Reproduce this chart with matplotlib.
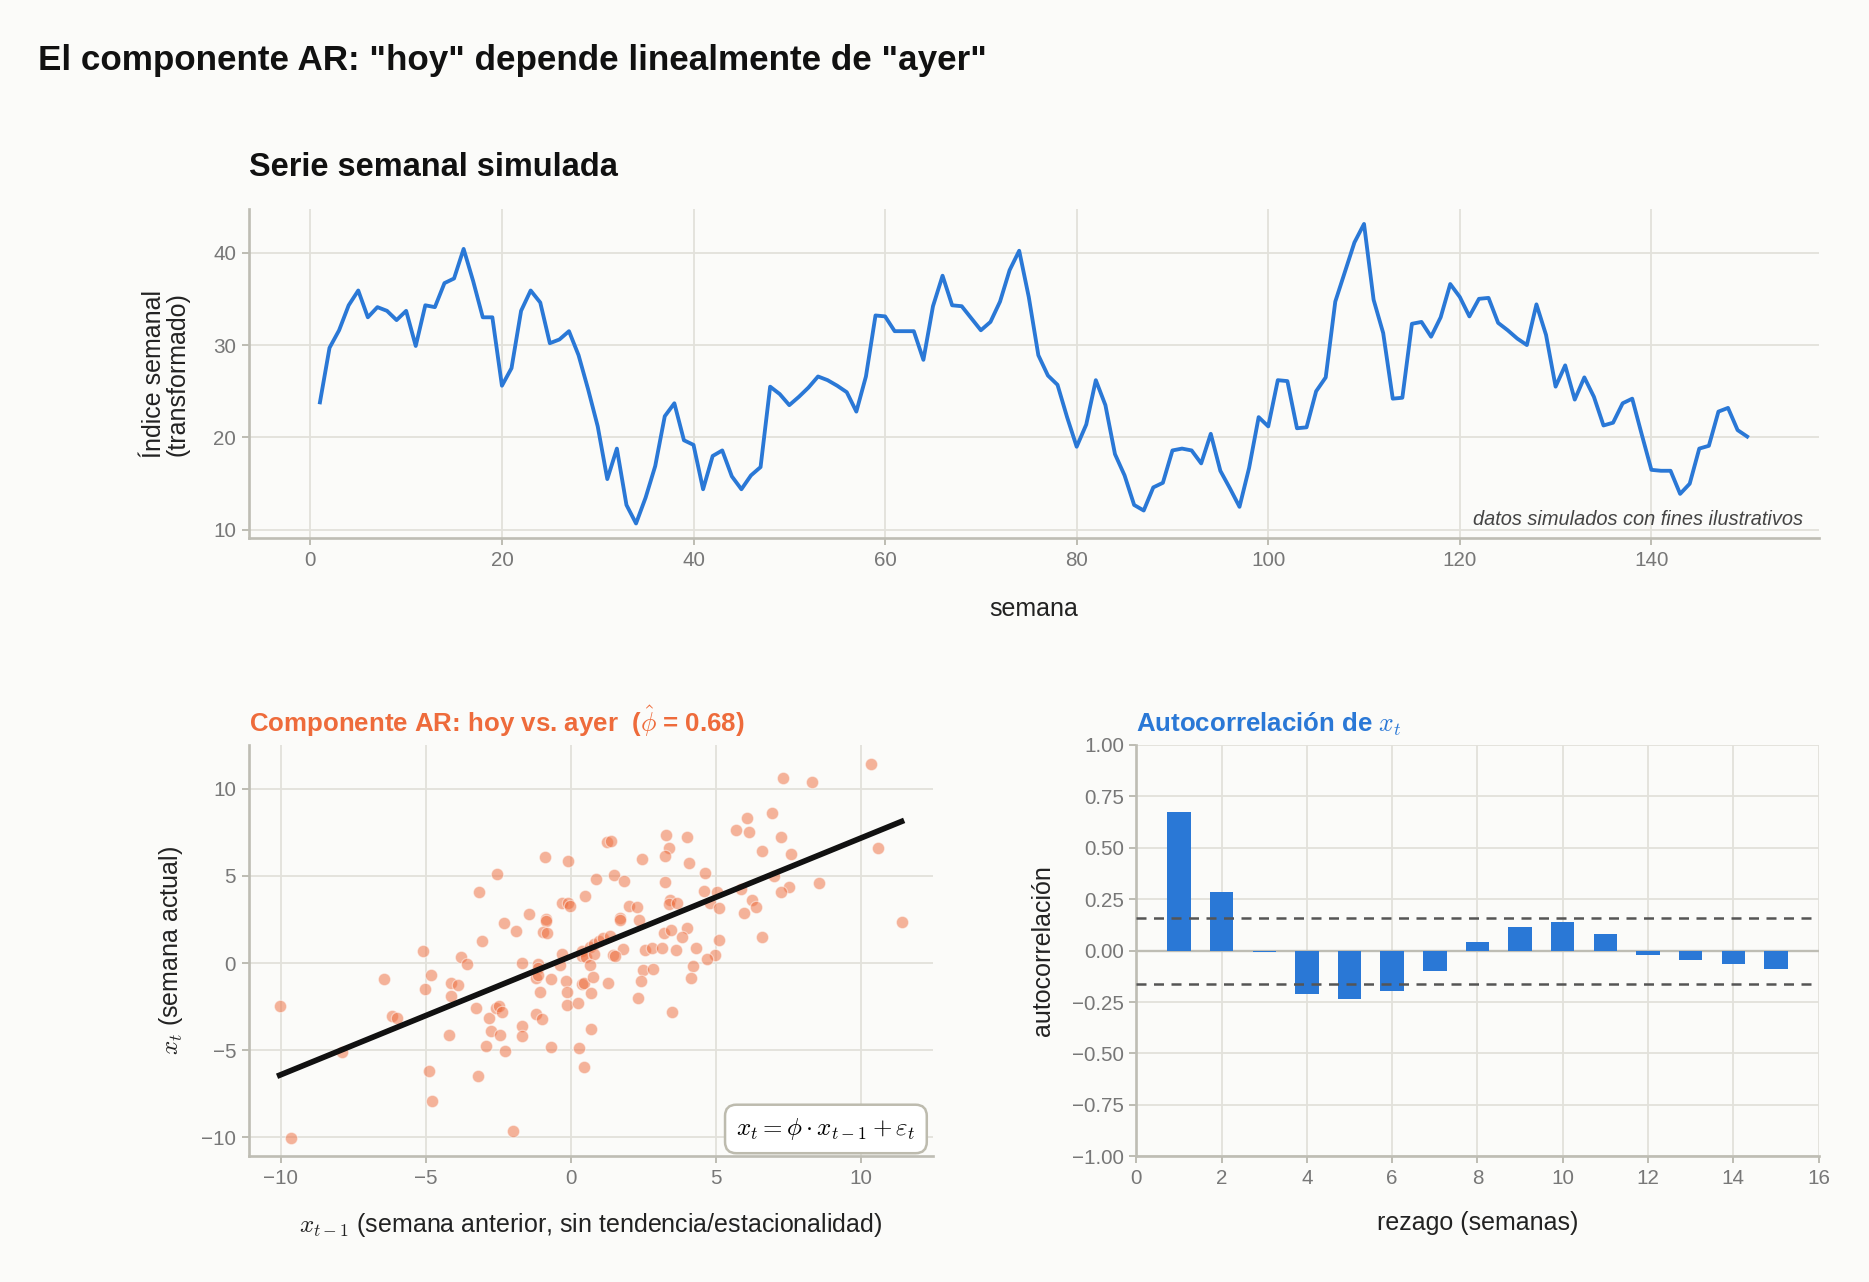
import numpy as np
import matplotlib
matplotlib.use("Agg")
import matplotlib.pyplot as plt
from matplotlib.ticker import FuncFormatter

# ---- data ----
weeks = np.arange(1, 151)
weekly_index = [
    23.8, 29.7, 31.6, 34.3, 35.9, 33.0, 34.1, 33.7, 32.7, 33.7,
    29.9, 34.3, 34.1, 36.7, 37.2, 40.4, 36.9, 33.0, 33.0, 25.6,
    27.5, 33.7, 35.9, 34.6, 30.2, 30.6, 31.5, 28.9, 25.2, 21.2,
    15.5, 18.8, 12.7, 10.7, 13.5, 16.9, 22.3, 23.7, 19.7, 19.2,
    14.4, 18.0, 18.6, 15.8, 14.4, 15.9, 16.8, 25.5, 24.7, 23.5,
    24.4, 25.4, 26.6, 26.2, 25.6, 24.9, 22.8, 26.6, 33.2, 33.1,
    31.5, 31.5, 31.5, 28.4, 34.2, 37.5, 34.3, 34.2, 32.9, 31.6,
    32.5, 34.7, 38.1, 40.2, 35.2, 28.9, 26.7, 25.7, 22.2, 19.0,
    21.4, 26.2, 23.5, 18.2, 15.9, 12.7, 12.1, 14.6, 15.1, 18.6,
    18.8, 18.6, 17.2, 20.4, 16.4, 14.5, 12.5, 16.7, 22.2, 21.2,
    26.2, 26.1, 21.0, 21.1, 25.0, 26.5, 34.7, 37.9, 41.1, 43.1,
    34.9, 31.3, 24.2, 24.3, 32.3, 32.5, 30.9, 33.0, 36.6, 35.2,
    33.1, 35.0, 35.1, 32.4, 31.6, 30.7, 30.0, 34.4, 31.1, 25.5,
    27.8, 24.1, 26.5, 24.4, 21.3, 21.6, 23.7, 24.2, 20.3, 16.5,
    16.4, 16.4, 13.9, 15.0, 18.8, 19.1, 22.8, 23.2, 20.8, 20.1,
]

# detrended pairs (x_{t-1}, x_t)
x_prev = [
    -0.89, -0.10, 1.26, 1.41, -2.55, -3.17, 0.88, 0.50, -0.31, -0.08,
    -0.01, -1.44, -0.86, -0.86, -2.29, -1.87, -0.94, -0.83, -3.04, -5.08,
    -3.77, -3.58, -1.68, -1.13, -0.31, 0.41, 0.68, 0.82, 0.99, 1.11,
    0.41, 0.53, 0.82, 0.67, 1.35, 10.37, 7.34, 8.32, 6.94, 6.07,
    5.70, 6.15, 7.24, 6.59, 7.60, 10.60, 3.29, 4.03, 3.40, 3.27,
    2.47, 4.07, 4.62, 1.49, 1.85, 3.26, 7.02, 8.56, 7.52, 7.24,
    4.60, 5.06, 5.86, 6.27, 6.39, 5.98, 3.44, 3.40, 3.67, 4.79,
    5.13, 2.00, 2.28, 1.71, 1.71, 2.35, 4.00, 3.23, 3.46, 3.84,
    5.13, 6.59, 11.41, 1.81, 1.45, 1.52, 2.58, 2.82, 3.15, 3.62,
    4.34, 4.98, 4.69, -10.03, -9.64, -6.45, -6.16, -5.98, -7.87, -5.02,
    -4.80, -4.88, -4.77, -4.14, -3.89, -4.14, -4.18, -3.25, -2.83, -2.76,
    -2.93, -3.18, -2.58, -2.47, -2.38, -2.42, -2.26, -2.00, -1.11, -1.20,
    -1.14, -0.67, -1.05, -1.69, -1.69, -1.20, -1.00, -0.67, -0.35, -0.15,
    -0.13, -0.13, 0.25, 0.30, 0.47, 0.41, 0.47, 0.78, 0.70, 0.71,
    1.30, 2.50, 2.85, 2.42, 2.32, 3.49, 4.22, 4.14,
]
x_curr = [
    6.09, 5.86, 6.97, 7.00, 5.13, 4.05, 4.81, 3.85, 3.47, 3.42,
    3.28, 2.82, 2.52, 2.39, 2.29, 1.83, 1.76, 1.72, 1.26, 0.67,
    0.32, -0.07, 0.02, -0.08, 0.51, 0.71, 0.90, 1.09, 1.28, 1.41,
    0.42, 0.36, 0.52, -0.10, 1.57, 11.45, 10.61, 10.40, 8.59, 8.34,
    7.63, 7.54, 7.25, 6.41, 6.28, 6.62, 7.35, 7.25, 6.60, 6.16,
    5.99, 5.74, 5.15, 5.08, 4.71, 4.64, 5.00, 4.62, 4.35, 4.10,
    4.14, 4.05, 4.24, 3.63, 3.24, 2.86, 3.63, 3.40, 3.47, 3.47,
    3.15, 3.28, 3.24, 2.58, 2.48, 2.46, 2.00, 1.74, 1.87, 1.49,
    1.35, 1.51, 2.33, 0.80, 0.45, 0.40, 0.76, 0.86, 0.84, 0.74,
    0.86, 0.45, 0.24, -2.47, -10.02, -0.89, -3.04, -3.17, -5.11, -1.46,
    -0.68, -6.18, -7.89, -1.14, -1.24, -1.88, -4.13, -2.57, -3.17, -3.90,
    -4.75, -6.46, -2.57, -2.47, -2.81, -4.14, -5.04, -9.64, -0.29, -0.86,
    -0.70, -0.93, -1.67, -3.61, -4.18, -2.95, -3.23, -4.81, -0.13, -1.05,
    -1.67, -2.41, -2.28, -4.90, -5.99, -1.20, -1.14, -0.82, -1.69, -3.76,
    -1.14, -0.38, -0.34, -1.01, -2.03, -2.79, -0.15, -0.87,
]
phi_hat = 0.68

lags = np.arange(1, 16)
acf_values = [0.674, 0.287, -0.008, -0.210, -0.234, -0.194, -0.097, 0.044,
              0.113, 0.140, 0.082, -0.023, -0.047, -0.066, -0.089]
n_obs = 150

# ---- style ----
BG = "#FBFBF9"
GRID = "#E2E1DB"
SPINE = "#BEBDB4"
TICK = "#777777"
BLUE = "#2A78D6"
ORANGE = "#EE6B3B"

plt.rcParams["font.family"] = ["Liberation Sans", "DejaVu Sans"]
plt.rcParams["mathtext.fontset"] = "cm"


def style_axes(ax):
    ax.set_facecolor(BG)
    ax.grid(True, color=GRID, linewidth=1.1)
    ax.set_axisbelow(True)
    for side in ["top", "right"]:
        ax.spines[side].set_visible(False)
    for side in ["left", "bottom"]:
        ax.spines[side].set_color(SPINE)
        ax.spines[side].set_linewidth(1.6)
    ax.tick_params(colors=SPINE, labelcolor=TICK, labelsize=12.4, length=4, width=1.2)


fig = plt.figure(figsize=(1869 / 120, 1282 / 120), dpi=120, facecolor=BG)

fig.text(0.0205, 0.953, 'El componente AR: "hoy" depende linealmente de "ayer"',
         fontsize=21, fontweight="bold", va="center", ha="left", color="#111111")

# top: weekly series
ax1 = fig.add_axes([0.133, 0.580, 0.840, 0.257])
style_axes(ax1)
ax1.plot(weeks, weekly_index, color=BLUE, linewidth=2.3)
ax1.set_title("Serie semanal simulada", loc="left", fontsize=19.5,
              fontweight="bold", pad=20, color="#111111")
ax1.set_xlabel("semana", fontsize=15, labelpad=16, color="#222222")
ax1.set_ylabel("Índice semanal\n(transformado)", fontsize=15, labelpad=14,
               color="#222222", linespacing=1.0)
ax1.text(0.99, 0.03, "datos simulados con fines ilustrativos", transform=ax1.transAxes,
         ha="right", va="bottom", fontsize=12, style="italic", color="#444444")

# bottom left: lag scatter
ax2 = fig.add_axes([0.133, 0.098, 0.366, 0.321])
style_axes(ax2)
ax2.scatter(x_prev, x_curr, s=55, color=ORANGE, alpha=0.5,
            edgecolors="white", linewidths=0.7, zorder=2)
slope, intercept = np.polyfit(x_prev, x_curr, 1)
xs = np.array([min(x_prev), max(x_prev)])
ax2.plot(xs, intercept + slope * xs, color="#111111", linewidth=3.4, zorder=3)
ax2.set_title(r"Componente AR: hoy vs. ayer  ($\hat{\phi}$ = " + f"{phi_hat:.2f})",
              loc="left", fontsize=15.5, fontweight="bold", color=ORANGE, pad=8)
ax2.set_xlabel(r"$x_{t-1}$ (semana anterior, sin tendencia/estacionalidad)",
               fontsize=15, labelpad=14, color="#222222")
ax2.set_ylabel(r"$x_t$ (semana actual)", fontsize=15, labelpad=10, color="#222222")
ax2.text(0.975, 0.035, r"$x_t = \phi \cdot x_{t-1} + \varepsilon_t$",
         transform=ax2.transAxes, ha="right", va="bottom", fontsize=15,
         bbox=dict(boxstyle="round,pad=0.45", facecolor="white", edgecolor="#BDBBAE",
                   linewidth=1.5))

# bottom right: ACF
ax3 = fig.add_axes([0.608, 0.098, 0.365, 0.321])
style_axes(ax3)
ax3.axhline(0, color=SPINE, linewidth=1.4, zorder=1)
ax3.bar(lags, acf_values, width=0.55, color=BLUE, linewidth=0, zorder=2)
conf = 1.96 / np.sqrt(n_obs)
for c in (conf, -conf):
    ax3.axhline(c, color="#555555", linestyle=(0, (4, 3)), linewidth=1.5, zorder=3)
ax3.set_xlim(0, 16)
ax3.set_ylim(-1, 1)
ax3.set_xticks(np.arange(0, 17, 2))
ax3.set_yticks(np.arange(-1, 1.01, 0.25))
ax3.yaxis.set_major_formatter(FuncFormatter(lambda v, pos: f"{v:.2f}".replace("-", "\u2212")))
ax3.set_title(r"Autocorrelación de $x_t$", loc="left", fontsize=15.5,
              fontweight="bold", color=BLUE, pad=8)
ax3.set_xlabel("rezago (semanas)", fontsize=15, labelpad=14, color="#222222")
ax3.set_ylabel("autocorrelación", fontsize=15, labelpad=10, color="#222222")

fig.savefig("out.png", dpi=120, facecolor=BG)
